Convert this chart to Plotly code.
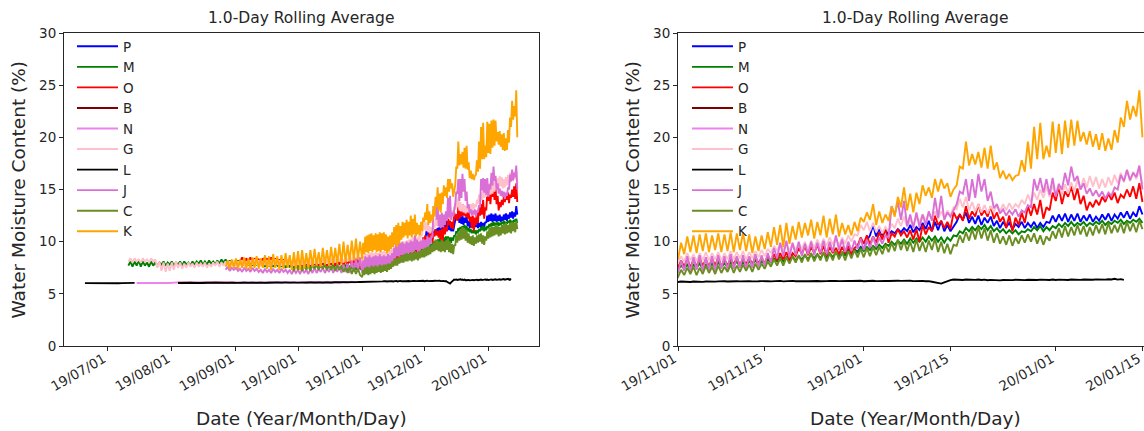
import pandas as pd
import plotly.graph_objects as go

# ---------------------------------------------------------------- data
# Daily-resolution readings (alternating daily high / low), Jun-Oct 2019
M_DAILY_START = "2019-07-11"
M_DAILY = [
    7.7, 8.1, 7.6, 8.1, 7.7, 8.2, 7.6, 8.1, 7.7, 8.0, 7.6, 8.1, 7.7, 8.0,
    7.7, 8.0, 7.8, 8.1, 7.7, 8.0, 7.8, 8.1, 7.7, 8.0,
    7.8, 8.1, 7.7, 8.1, 7.8, 8.0, 7.7, 8.1, 7.8, 8.1, 7.9, 8.2,
    7.8, 8.1, 7.8, 8.2, 7.9, 8.1, 7.8, 8.2, 7.9, 8.3, 8.0, 8.3,
    7.9, 8.2, 7.8, 8.1, 7.9, 8.2, 7.8, 8.1, 7.7, 8.0, 7.8, 8.1, 7.7, 8.0, 7.8, 8.1, 7.7,
    8.0, 7.6, 7.9, 7.7, 8.0, 7.6, 7.9, 7.7, 8.0, 7.6, 7.9, 7.5, 7.8, 7.6, 7.9, 7.5, 7.8,
    7.5, 7.8, 7.4, 7.8, 7.5, 7.9, 7.4, 7.8, 7.5, 7.8, 7.4, 7.7, 7.5, 7.8, 7.4, 7.7,
    7.5, 7.8, 7.4, 7.7, 7.3, 7.7, 7.4, 7.8, 7.3, 7.7, 7.4, 7.8, 7.3, 7.7, 7.4,
]
G_DAILY_START = "2019-07-11"
G_DAILY = [
    8.1, 8.4, 8.0, 8.4, 8.1, 8.3, 8.0, 8.4, 8.1, 8.3, 8.0, 8.4, 8.1, 8.3,
    7.5, 8.1, 7.2, 8.0, 7.1, 7.9, 7.2, 8.0, 7.3, 8.1,
    7.5, 8.0, 7.4, 7.9, 7.5, 8.0, 7.6, 7.9, 7.5, 8.0, 7.6, 7.9,
    7.6, 8.0, 7.5, 7.9, 7.6, 8.0, 7.7, 8.1, 7.6, 8.0, 7.7, 8.1,
    7.7, 8.1, 7.8, 8.2, 7.7, 8.1, 7.8, 8.2, 7.7, 8.1, 7.8, 8.2, 7.8, 8.3, 7.8, 8.2, 7.7,
    8.1, 7.8, 8.2, 7.7, 8.2, 7.8, 8.3, 7.8, 8.2, 7.7, 8.2, 7.8, 8.3, 7.8, 8.2, 7.7, 8.2,
    7.8, 8.3, 7.8, 8.3, 7.9, 8.4, 7.8, 8.3, 7.9, 8.4, 7.9, 8.4, 8.0, 8.5, 7.9, 8.4,
    8.0, 8.5, 8.0, 8.6, 8.1, 8.5, 8.0, 8.6, 8.1, 8.7, 8.1, 8.6, 8.2, 8.7, 8.1,
]
K_DAILY_START = "2019-08-27"
K_DAILY = [
    7.6, 8.2, 7.4, 8.3, 7.5,
    8.4, 7.4, 8.3, 7.5, 8.5, 7.4, 8.4, 7.3, 8.5, 7.5, 8.6, 7.4, 8.4, 7.5, 8.7,
    7.4, 8.6, 7.3, 8.8, 7.5, 8.6, 7.3, 8.7, 7.4, 8.9, 7.5, 8.7, 7.3, 9.0, 7.4,
    9.1, 7.3, 9.2, 7.4, 8.9, 7.5, 9.2, 7.6, 9.3, 7.7, 9.0, 7.6, 9.4, 7.8, 9.2,
    7.7, 9.5, 7.8, 9.4, 7.9, 9.8, 7.8, 10.0, 8.0, 9.7, 8.1, 10.1, 8.2, 10.3, 8.3, 10.0,
]
J_DAILY_START = "2019-08-27"
J_DAILY = [
    7.3, 7.6, 7.2, 7.5, 7.3,
    7.5, 7.2, 7.4, 7.1, 7.5, 7.2, 7.4, 7.1, 7.5, 7.2, 7.4, 7.1, 7.3, 7.0, 7.4,
    7.1, 7.3, 7.0, 7.4, 7.1, 7.3, 7.0, 7.4, 7.1, 7.3, 7.0, 7.3, 6.9, 7.3, 7.0,
    7.3, 6.9, 7.4, 7.0, 7.3, 6.9, 7.4, 7.0, 7.5, 7.0, 7.4, 7.1, 7.5, 7.0, 7.4,
    7.1, 7.6, 7.0, 7.5, 7.1, 7.7, 7.0, 7.8, 7.1, 7.9, 7.0, 8.2, 7.1, 8.4, 7.2, 8.5,
]
C_DAILY_START = "2019-09-28"
C_DAILY = [
    7.6, 7.2, 7.7,
    7.3, 7.7, 7.2, 7.8, 7.3, 7.7, 7.2, 7.8, 7.4, 7.8, 7.3, 7.9, 7.4, 7.8, 7.3,
    7.8, 7.3, 7.7, 7.2, 7.8, 7.3, 7.6, 7.1, 7.5, 7.0, 7.6, 6.9, 7.5, 6.9, 7.4, 6.8,
]
O_DAILY_START = "2019-09-03"
O_DAILY = [
    8.1, 8.5, 8.0, 8.4, 8.1, 8.5, 8.0, 8.4, 8.1, 8.3, 8.0, 8.4, 8.1,
    8.4, 8.0, 8.5, 8.1, 8.4, 8.0, 8.3, 7.9, 8.3, 7.9, 8.2, 7.8, 8.2, 7.8, 8.1,
    7.8, 8.1, 7.7, 8.2, 7.8, 8.1, 7.7, 8.2, 7.8, 8.1, 7.7, 8.2, 7.8, 8.2, 7.7,
    8.2, 7.8, 8.3, 7.7, 8.2, 7.8, 8.3, 7.7, 8.2, 7.8, 8.3, 7.6, 8.3, 7.7, 8.4, 7.5,
]

# Flat sensors, one reading every two days
L_2DAY_A_START = "2019-06-20"
L_2DAY_A = [6.03, 6.02, 6.04, 6.03, 6.02, 6.03, 6.04, 6.03, 6.02, 6.03, 6.04, 6.03, 6.05]
L_2DAY_B_START = "2019-08-04"
L_2DAY_B = [
    6.04, 6.03, 6.05, 6.04, 6.03, 6.05, 6.04, 6.06, 6.05, 6.04,
    6.06, 6.05, 6.04, 6.06, 6.05, 6.07, 6.06, 6.05, 6.07, 6.06,
    6.05, 6.07, 6.06, 6.08, 6.07, 6.06, 6.08, 6.07, 6.09, 6.08,
    6.07, 6.09, 6.08, 6.10, 6.09, 6.08, 6.10, 6.09, 6.11, 6.10,
    6.12, 6.11, 6.13, 6.12, 6.14,
]
N_2DAY_START = "2019-07-15"
N_2DAY = [
    6.04, 6.05, 6.04, 6.05, 6.04, 6.05, 6.04, 6.05, 6.04, 6.05,
    6.10, 6.02, 6.11, 6.03, 6.09, 6.02, 6.12, 6.04, 6.10, 6.03,
    6.11, 6.02, 6.12, 6.04, 6.10, 6.03, 6.13, 6.05, 6.11, 6.04,
    6.12, 6.03, 6.13, 6.05, 6.11, 6.04, 6.14, 6.06, 6.12, 6.05,
    6.13, 6.04, 6.14, 6.06, 6.12, 6.05, 6.15, 6.07, 6.13, 6.06,
    6.14, 6.08, 6.16, 6.07,
]
B_2DAY_START = "2019-08-04"
B_2DAY = [6.06, 6.08, 6.05, 6.09, 6.06, 6.08, 6.05, 6.09, 6.07, 6.08, 6.06, 6.09, 6.07, 6.08, 6.06]

# Twelve-hourly readings (night / day), Nov 2019 - Jan 2020
HALFDAY_START = "2019-11-01"
K_HALFDAY = [
    8.3, 9.9, 8.8, 10.5, 9.0, 10.6, 8.9, 10.7, 9.1, 10.8,
    9.0, 10.6, 9.2, 10.8, 9.0, 10.7, 9.1, 10.9, 9.0, 10.8,
    9.2, 10.9, 9.1, 10.7, 8.9, 10.5, 9.1, 10.6, 9.3, 10.9,
    9.5, 11.4, 9.7, 11.6, 9.5, 11.8, 9.8, 11.5, 10.2, 11.9,
    10.4, 11.8, 10.6, 12.1, 10.3, 11.9, 10.6, 12.5, 10.4, 12.2,
    10.7, 12.6, 10.5, 11.8, 10.7, 11.6, 10.6, 11.9, 11.0, 12.3,
    11.9, 12.8, 12.1, 13.6, 11.6, 12.9, 11.8, 12.6, 12.0, 13.4,
    12.4, 14.3, 13.3, 15.2, 13.0, 14.6, 12.8, 14.7, 13.6, 15.4,
    14.4, 15.2, 14.2, 16.0, 14.8, 16.0, 15.1, 15.6, 14.3, 15.0,
    15.4, 17.2, 17.0, 19.6, 17.3, 18.4, 17.4, 18.6, 17.1, 19.0,
    17.0, 19.2, 16.9, 17.6, 16.1, 16.8, 16.0, 16.5, 15.9, 16.3,
    16.4, 17.8, 16.7, 19.6, 17.0, 21.0, 17.9, 21.4, 17.9, 19.2,
    18.1, 21.5, 18.5, 21.3, 18.4, 21.6, 19.0, 21.7, 19.2, 21.6,
    19.6, 20.5, 19.3, 20.6, 19.1, 20.3, 18.8, 20.4, 18.7, 19.9,
    18.8, 20.7, 19.5, 21.9, 21.0, 23.5, 21.7, 23.0, 22.0, 24.5,
    20.0,
]
J_HALFDAY = [
    7.0, 8.2, 7.2, 8.6, 7.1, 8.5, 7.3, 8.7, 7.2, 8.5,
    7.3, 8.6, 7.2, 8.7, 7.4, 8.6, 7.3, 8.8, 7.4, 8.6,
    7.5, 8.7, 7.4, 8.6, 7.5, 8.8, 7.6, 8.7, 7.7, 8.9,
    8.0, 9.4, 8.4, 9.9, 8.6, 10.1, 8.5, 9.9, 8.7, 10.0,
    8.6, 9.8, 8.8, 10.0, 8.7, 9.9, 8.9, 10.1, 8.8, 10.0,
    9.0, 10.6, 9.2, 10.2, 9.0, 10.0, 9.1, 10.1, 9.3, 10.3,
    9.2, 10.2, 9.4, 10.5, 9.5, 10.4, 9.8, 10.6, 10.4, 13.4,
    12.6, 13.8, 12.1, 13.9, 11.5, 12.6, 11.3, 12.8, 11.4, 12.6,
    11.6, 12.9, 12.0, 14.2, 12.3, 14.4, 12.1, 12.8, 12.4, 13.0,
    13.6, 14.8, 14.6, 16.0, 13.9, 16.0, 14.2, 16.5, 14.8, 16.0,
    13.9, 14.8, 13.2, 13.6, 12.7, 13.1, 12.5, 13.0, 12.6, 13.1,
    12.4, 13.0, 12.8, 13.5, 13.3, 16.0, 14.9, 16.1, 14.7, 16.0,
    14.5, 16.1, 14.3, 15.5, 15.0, 16.6, 15.4, 17.2, 15.8, 16.3,
    15.0, 15.6, 14.6, 15.1, 14.4, 14.9, 14.3, 14.8, 14.1, 14.7,
    14.4, 15.2, 15.0, 16.4, 15.8, 16.9, 15.9, 16.6, 16.2, 17.3,
    15.0,
]
G_HALFDAY = [
    8.0, 8.6, 8.1, 8.9, 8.2, 8.8, 8.1, 8.9, 8.2, 9.0,
    8.2, 8.9, 8.3, 9.0, 8.2, 8.9, 8.3, 9.1, 8.3, 9.0,
    8.4, 9.1, 8.3, 9.0, 8.4, 9.1, 8.5, 9.2, 8.6, 9.3,
    8.9, 9.6, 9.1, 9.8, 9.2, 9.9, 9.1, 9.8, 9.2, 9.9,
    9.3, 10.0, 9.2, 10.1, 9.4, 10.2, 9.5, 10.3, 9.6, 10.4,
    9.7, 10.5, 9.6, 10.4, 9.8, 10.6, 10.0, 10.7, 10.6, 11.6,
    11.1, 11.9, 11.0, 11.8, 10.9, 11.5, 10.8, 11.4, 11.0, 11.7,
    11.3, 12.2, 11.5, 12.4, 11.4, 12.1, 11.6, 12.3, 11.9, 12.6,
    12.0, 12.8, 12.1, 12.9, 12.2, 12.9, 12.3, 13.0, 12.5, 13.3,
    13.1, 14.1, 13.3, 14.3, 13.0, 13.8, 12.9, 13.6, 12.8, 13.5,
    12.7, 13.4, 12.8, 13.5, 12.9, 13.6, 13.0, 13.7, 13.1, 13.6,
    13.3, 14.0, 13.6, 14.5, 13.8, 14.7, 14.0, 15.0, 14.2, 15.3,
    14.3, 15.4, 14.4, 15.6, 14.5, 15.5, 14.6, 15.7, 14.8, 15.9,
    15.0, 16.1, 15.2, 16.3, 15.3, 16.2, 15.1, 16.0, 15.2, 16.2,
    15.4, 16.4, 15.6, 16.6, 15.7, 16.8, 15.8, 16.7, 16.0, 16.9,
    15.5,
]
O_HALFDAY = [
    7.5, 8.2, 7.6, 8.4, 7.5, 8.3, 7.6, 8.4, 7.7, 8.3,
    7.6, 8.4, 7.7, 8.5, 7.6, 8.3, 7.7, 8.4, 7.8, 8.5,
    7.7, 8.4, 7.8, 8.5, 7.8, 8.6, 7.9, 8.5, 7.9, 8.7,
    8.1, 8.8, 8.2, 8.9, 8.3, 9.0, 8.2, 8.9, 8.6, 9.4,
    8.8, 9.6, 8.7, 9.5, 8.9, 9.7, 8.8, 9.6, 8.7, 9.5,
    8.9, 9.4, 8.8, 9.5, 8.9, 9.6, 8.8, 9.4, 9.6, 10.4,
    9.8, 10.6, 9.7, 10.5, 9.9, 10.9, 10.2, 11.3, 9.9, 10.8,
    10.5, 11.2, 10.6, 11.0, 10.4, 11.1, 10.2, 11.2, 10.0, 11.6,
    10.7, 11.4, 11.0, 12.5, 11.6, 12.0, 11.3, 11.9, 11.2, 12.8,
    12.2, 12.6, 12.0, 13.4, 12.2, 12.9, 12.4, 13.6, 12.5, 13.0,
    12.4, 13.4, 12.2, 12.8, 11.9, 12.4, 11.3, 12.5, 11.0, 12.3,
    11.6, 12.8, 11.8, 13.4, 12.5, 13.6, 12.6, 14.0, 12.2, 13.3,
    13.0, 14.7, 13.9, 15.3, 13.6, 14.8, 14.3, 15.3, 14.0, 15.1,
    13.6, 14.4, 13.0, 13.8, 13.3, 14.0, 13.5, 14.3, 13.8, 14.6,
    14.0, 14.7, 13.7, 14.5, 14.2, 15.0, 14.3, 15.3, 14.1, 15.6,
    13.8,
]
M_HALFDAY = [
    7.3, 7.7, 7.4, 7.8, 7.4, 7.8, 7.5, 7.9, 7.4, 7.8,
    7.5, 7.9, 7.5, 8.0, 7.6, 7.9, 7.6, 8.0, 7.7, 8.1,
    7.6, 8.0, 7.7, 8.1, 7.8, 8.2, 7.8, 8.1, 7.9, 8.3,
    8.0, 8.4, 8.1, 8.5, 8.1, 8.5, 8.2, 8.6, 8.2, 8.6,
    8.3, 8.7, 8.3, 8.8, 8.4, 8.8, 8.4, 8.9, 8.5, 8.9,
    8.5, 9.0, 8.6, 9.0, 8.7, 9.1, 8.8, 9.2, 9.0, 9.4,
    9.1, 9.5, 9.2, 9.6, 9.3, 9.7, 9.4, 9.8, 9.6, 10.0,
    9.7, 10.1, 9.8, 10.2, 9.8, 10.3, 9.9, 10.3, 10.0, 10.4,
    10.0, 10.5, 10.1, 10.5, 10.0, 10.4, 9.9, 10.4, 10.1, 10.6,
    10.5, 11.0, 10.8, 11.3, 11.0, 11.4, 11.1, 11.5, 11.2, 11.6,
    11.1, 11.5, 11.0, 11.3, 10.9, 11.2, 10.8, 11.1, 10.8, 11.1,
    10.7, 11.0, 10.9, 11.2, 11.0, 11.4, 11.1, 11.5, 11.0, 11.4,
    11.1, 11.5, 11.3, 11.7, 11.4, 11.8, 11.5, 11.9, 11.5, 11.8,
    11.6, 11.9, 11.5, 11.8, 11.6, 11.9, 11.7, 12.0, 11.6, 11.9,
    11.7, 12.0, 11.8, 12.1, 11.7, 12.0, 11.8, 12.1, 11.9, 12.2,
    11.8,
]
C_HALFDAY = [
    6.6, 7.3, 6.8, 7.5, 6.9, 7.6, 6.8, 7.5, 6.9, 7.7,
    7.0, 7.6, 6.9, 7.7, 7.0, 7.6, 7.1, 7.8, 7.0, 7.7,
    7.1, 7.8, 7.2, 7.8, 7.1, 7.9, 7.3, 7.9, 7.4, 8.1,
    7.6, 8.3, 7.7, 8.4, 7.7, 8.5, 7.9, 8.6, 8.0, 8.7,
    8.0, 8.8, 8.1, 8.9, 8.1, 8.8, 8.2, 9.0, 8.1, 8.9,
    8.2, 9.1, 8.3, 9.0, 8.2, 9.1, 8.4, 9.2, 8.5, 9.3,
    8.5, 9.4, 8.6, 9.5, 8.7, 9.5, 8.8, 9.7, 9.0, 9.9,
    9.1, 10.2, 9.2, 10.1, 9.1, 10.0, 9.0, 10.2, 9.1, 10.0,
    9.0, 10.1, 9.2, 10.3, 9.0, 10.0, 8.9, 9.8, 8.8, 9.7,
    9.6, 10.6, 9.9, 10.9, 10.1, 11.2, 10.2, 11.4, 10.3, 11.3,
    10.1, 11.1, 9.9, 10.8, 9.8, 10.5, 9.7, 10.6, 9.6, 10.4,
    9.8, 10.6, 9.9, 10.7, 10.0, 10.8, 9.8, 10.6, 9.7, 10.5,
    10.1, 11.0, 10.3, 11.3, 10.4, 11.5, 10.5, 11.4, 10.6, 11.6,
    10.7, 11.5, 10.5, 11.4, 10.6, 11.6, 10.8, 11.7, 10.7, 11.8,
    10.8, 11.6, 10.9, 11.8, 10.8, 11.9, 11.0, 11.8, 10.9, 12.0,
    11.2,
]
L_HALFDAY = [
    6.14, 6.18, 6.15, 6.17, 6.14, 6.18, 6.16, 6.19, 6.15, 6.18, 6.16, 6.20,
    6.17, 6.19, 6.16, 6.20, 6.18, 6.21, 6.17, 6.20, 6.19, 6.22,
    6.18, 6.21, 6.19, 6.23, 6.20, 6.22, 6.18, 6.21, 6.19, 6.22, 6.20, 6.24,
    6.19, 6.22, 6.21, 6.24, 6.20, 6.23, 6.19, 6.22, 6.21, 6.24,
    6.20, 6.23, 6.21, 6.25, 6.22, 6.24, 6.20, 6.23, 6.22, 6.25, 6.21, 6.24,
    6.23, 6.26, 6.22, 6.25, 6.21, 6.24, 6.23, 6.26, 6.22, 6.25,
    6.21, 6.24, 6.23, 6.26, 6.22, 6.25, 6.24, 6.27, 6.23, 6.26, 6.22, 6.25,
    6.21, 6.24, 6.20, 6.22, 6.16, 6.12, 6.04, 5.98, 6.10, 6.22,
    6.32, 6.37, 6.34, 6.38, 6.33, 6.37, 6.35, 6.39, 6.34, 6.37, 6.32, 6.36,
    6.31, 6.34, 6.30, 6.33, 6.29, 6.32, 6.30, 6.34, 6.31, 6.35,
    6.32, 6.36, 6.31, 6.35, 6.33, 6.37, 6.32, 6.36, 6.34, 6.38, 6.33, 6.37,
    6.32, 6.36, 6.34, 6.38, 6.33, 6.37, 6.35, 6.39, 6.34, 6.38,
    6.36, 6.40, 6.35, 6.39, 6.37, 6.42, 6.36, 6.40, 6.38, 6.44, 6.36, 6.41,
    6.34,
]
P_HALFDAY_START = "2019-11-27"
P_HALFDAY = [
    8.4, 8.9, 8.7, 9.2, 8.8, 9.3, 9.0, 9.5, 9.3, 10.1,
    10.6, 11.6, 10.5, 11.2, 10.6, 11.1, 10.7, 11.0, 10.8, 11.2,
    10.9, 11.3, 11.0, 11.6, 10.9, 11.4, 11.1, 11.8, 11.2, 12.0,
    11.0, 11.9, 11.1, 12.0, 11.0, 11.6, 11.0, 11.5, 11.9, 12.6,
    12.1, 12.8, 11.8, 12.4, 11.7, 12.5, 11.6, 12.3, 11.8, 12.4,
    11.5, 12.0, 11.3, 11.9, 11.4, 11.8, 11.2, 11.7, 11.4, 11.9,
    11.3, 11.8, 11.4, 11.9, 11.3, 11.8, 11.4, 11.9, 11.8, 12.5,
    11.9, 12.6, 12.0, 12.7, 11.9, 12.6, 12.0, 12.7, 11.9, 12.5,
    12.0, 12.6, 11.9, 12.4, 12.0, 12.6, 12.1, 12.7, 12.0, 12.6,
    12.2, 12.8, 12.3, 12.9, 12.2, 12.8, 12.4, 13.4,
    12.6,
]

SERIES_NAMES = ["P", "M", "O", "B", "N", "G", "L", "J", "C", "K"]
SERIES_COLORS = ["#0000ff", "#008000", "#ff0000", "#800000", "#ee82ee",
                 "#ffc0cb", "#000000", "#da70d6", "#6b8e23", "#ffa500"]

# (start, hours between readings, readings) for every sensor
SEGMENTS = {
    "P": [(P_HALFDAY_START, 12, P_HALFDAY)],
    "M": [(M_DAILY_START, 24, M_DAILY), (HALFDAY_START, 12, M_HALFDAY)],
    "O": [(O_DAILY_START, 24, O_DAILY), (HALFDAY_START, 12, O_HALFDAY)],
    "B": [(B_2DAY_START, 48, B_2DAY)],
    "N": [(N_2DAY_START, 48, N_2DAY)],
    "G": [(G_DAILY_START, 24, G_DAILY), (HALFDAY_START, 12, G_HALFDAY)],
    "L": [(L_2DAY_A_START, 48, L_2DAY_A), (L_2DAY_B_START, 48, L_2DAY_B),
          (HALFDAY_START, 12, L_HALFDAY)],
    "J": [(J_DAILY_START, 24, J_DAILY), (HALFDAY_START, 12, J_HALFDAY)],
    "C": [(C_DAILY_START, 24, C_DAILY), (HALFDAY_START, 12, C_HALFDAY)],
    "K": [(K_DAILY_START, 24, K_DAILY), (HALFDAY_START, 12, K_HALFDAY)],
}

LEFT_TICKS = ["2019-07-01", "2019-08-01", "2019-09-01", "2019-10-01",
              "2019-11-01", "2019-12-01", "2020-01-01"]
RIGHT_TICKS = ["2019-11-01", "2019-11-15", "2019-12-01", "2019-12-15",
               "2020-01-01", "2020-01-15"]
LEFT_RANGE = ["2019-06-09 21:00", "2020-01-25 12:00"]
RIGHT_RANGE = ["2019-11-01", "2020-01-15 06:00"]

TITLE = "1.0-Day Rolling Average"
X_TITLE = "Date (Year/Month/Day)"
Y_TITLE = "Water Moisture Content (%)"


def build_series(segments):
    """Join reading segments into one x/y pair, breaking the line at gaps."""
    xs, ys = [], []
    last = None
    for start, step_h, values in segments:
        stamps = pd.date_range(start, periods=len(values), freq=f"{step_h}h")
        if last is not None and (stamps[0] - last) > pd.Timedelta(days=3):
            xs.append(None)
            ys.append(None)
        xs.extend(stamps)
        ys.extend(values)
        last = stamps[-1]
    return xs, ys


# ---------------------------------------------------------------- layout
W, H = 1144, 431
FONT = "DejaVu Sans"
INK = "#262626"
TOP_PX, BOTTOM_PX = 33, 346
LEFT_PX = (64, 539)
RIGHT_PX = (678, 1144)
RIGHT_FULL_PX = (678, 1153)   # full width of the right panel, used for centring its titles


def fx(p):
    return p / W


def fy(p):
    return 1 - p / H


fig = go.Figure()

for legend_id, xa, ya in (("legend", "x", "y"), ("legend2", "x2", "y2")):
    for name, color in zip(SERIES_NAMES, SERIES_COLORS):
        xs, ys = build_series(SEGMENTS[name])
        fig.add_trace(go.Scatter(
            x=xs, y=ys, name=name, mode="lines",
            line=dict(color=color, width=1.9),
            xaxis=xa, yaxis=ya, legend=legend_id,
            connectgaps=False, hoverinfo="skip",
        ))

axis_common = dict(
    showgrid=False, zeroline=False, showline=True, linecolor=INK, linewidth=1,
    ticks="outside", ticklen=4, tickwidth=1, tickcolor=INK, automargin=False,
    tickfont=dict(family=FONT, size=13.5, color=INK),
)
x_common = dict(axis_common, type="date", tickformat="%y/%m/%d", tickangle=-30,
                ticklabeloverflow="allow", ticklabelstandoff=-5, ticklabelshift=-4)
y_common = dict(axis_common, range=[0, 30], tickmode="linear", tick0=0, dtick=5,
                domain=[fy(BOTTOM_PX), fy(TOP_PX)])

legend_common = dict(
    bgcolor="rgba(0,0,0,0)", borderwidth=0, font=dict(family=FONT, size=13.5, color=INK),
    xanchor="left", yanchor="top", itemwidth=41, tracegroupgap=0, traceorder="normal",
)

fig.update_layout(
    width=W, height=H,
    margin=dict(l=0, r=0, t=0, b=0, pad=0, autoexpand=False),
    paper_bgcolor="white", plot_bgcolor="white",
    font=dict(family=FONT, color=INK),
    xaxis=dict(x_common, domain=[fx(LEFT_PX[0]), fx(LEFT_PX[1])], range=LEFT_RANGE,
               tickvals=LEFT_TICKS, mirror=True, anchor="y"),
    yaxis=dict(y_common, mirror=True, anchor="x"),
    xaxis2=dict(x_common, domain=[fx(RIGHT_PX[0]), fx(RIGHT_PX[1])], range=RIGHT_RANGE,
                tickvals=RIGHT_TICKS, mirror=True, anchor="y2"),
    yaxis2=dict(y_common, mirror=False, anchor="x2"),
    legend=dict(legend_common, x=fx(72), y=fy(31)),
    legend2=dict(legend_common, x=fx(687), y=fy(31)),
    showlegend=True,
)

annotations = []
panels = [(LEFT_PX, 18), (RIGHT_FULL_PX, 632)]
for (x0, x1), ylab_x in panels:
    cx = (x0 + x1) / 2
    annotations.append(dict(text=TITLE, x=fx(cx), y=fy(18), xref="paper", yref="paper",
                            xanchor="center", yanchor="middle", showarrow=False,
                            font=dict(family=FONT, size=15.5, color=INK)))
    annotations.append(dict(text=X_TITLE, x=fx(cx), y=fy(418), xref="paper", yref="paper",
                            xanchor="center", yanchor="middle", showarrow=False,
                            font=dict(family=FONT, size=18.5, color=INK)))
    annotations.append(dict(text=Y_TITLE, x=fx(ylab_x), y=fy((TOP_PX + BOTTOM_PX) / 2),
                            xref="paper", yref="paper", xanchor="center", yanchor="middle",
                            textangle=-90, showarrow=False,
                            font=dict(family=FONT, size=18.5, color=INK)))
fig.update_layout(annotations=annotations)

fig.write_html("out.html")
